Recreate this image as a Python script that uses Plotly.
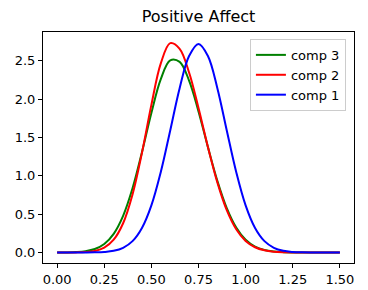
import plotly.graph_objects as go

x_vals = [0.00, 0.05, 0.10, 0.15, 0.20, 0.25, 0.30, 0.35, 0.40, 0.45,
          0.50, 0.55, 0.60, 0.65, 0.70, 0.75, 0.80, 0.85, 0.90, 0.95,
          1.00, 1.05, 1.10, 1.15, 1.20, 1.25, 1.30, 1.35, 1.40, 1.45, 1.50]

comp3 = [0.0004, 0.0015, 0.0053, 0.0163, 0.0451, 0.111, 0.244, 0.479, 0.838, 1.308,
         1.821, 2.262, 2.507, 2.487, 2.243, 1.841, 1.375, 0.935, 0.579, 0.326,
         0.167, 0.078, 0.0331, 0.0128, 0.0045, 0.0014, 0.0004, 0.0001, 0.0, 0.0, 0.0]

comp2 = [0.0001, 0.0003, 0.0014, 0.0058, 0.0204, 0.063, 0.167, 0.382, 0.758, 1.300,
         1.926, 2.467, 2.732, 2.658, 2.348, 1.886, 1.377, 0.915, 0.552, 0.303,
         0.151, 0.0686, 0.0283, 0.0106, 0.0036, 0.0011, 0.0003, 0.0001, 0.0, 0.0, 0.0]

comp1 = [0.0, 0.0, 0.0001, 0.0005, 0.002, 0.007, 0.022, 0.061, 0.148, 0.320,
         0.615, 1.051, 1.593, 2.144, 2.563, 2.72, 2.563, 2.144, 1.593, 1.051,
         0.615, 0.320, 0.148, 0.061, 0.022, 0.007, 0.002, 0.0005, 0.0001, 0.0, 0.0]

series_names = ["comp 3", "comp 2", "comp 1"]
series_values = [comp3, comp2, comp1]
series_colors = ["#008000", "#ff0000", "#0000ff"]

x_ticks = [0.0, 0.25, 0.5, 0.75, 1.0, 1.25, 1.5]
x_tick_labels = ["0.00", "0.25", "0.50", "0.75", "1.00", "1.25", "1.50"]
y_ticks = [0.0, 0.5, 1.0, 1.5, 2.0, 2.5]
y_tick_labels = ["0.0", "0.5", "1.0", "1.5", "2.0", "2.5"]

fig = go.Figure()
for name, vals, col in zip(series_names, series_values, series_colors):
    fig.add_trace(go.Scatter(x=x_vals, y=vals, mode="lines", name=name,
                             line=dict(color=col, width=2, shape="spline", smoothing=1)))

axis_common = dict(showline=True, linecolor="black", linewidth=1, mirror=True,
                   ticks="outside", ticklen=4, tickwidth=1, tickcolor="black",
                   showgrid=False, zeroline=False,
                   tickfont=dict(family="DejaVu Sans", size=13, color="black"))

fig.update_layout(
    width=368, height=290,
    margin=dict(l=43, r=14, t=32, b=27, autoexpand=False),
    paper_bgcolor="white", plot_bgcolor="white",
    title=dict(text="Positive Affect", x=0.5, xref="paper", xanchor="center",
               y=1 - 16.5 / 290, yref="container", yanchor="middle",
               font=dict(family="DejaVu Sans", size=16, color="black")),
    xaxis=dict(range=[-0.075, 1.575], tickvals=x_ticks, ticktext=x_tick_labels, **axis_common),
    yaxis=dict(range=[-0.137, 2.877], tickvals=y_ticks, ticktext=y_tick_labels, **axis_common),
    legend=dict(x=0.974, y=0.970, xanchor="right", yanchor="top",
                bgcolor="rgba(255,255,255,0.8)", bordercolor="#cccccc", borderwidth=1,
                font=dict(family="DejaVu Sans", size=13, color="black"),
                tracegroupgap=0),
    showlegend=True,
)

fig.write_html("out.html",
               config={"displayModeBar": False},
               post_script="document.body.style.margin='0';document.body.style.overflow='hidden';")
